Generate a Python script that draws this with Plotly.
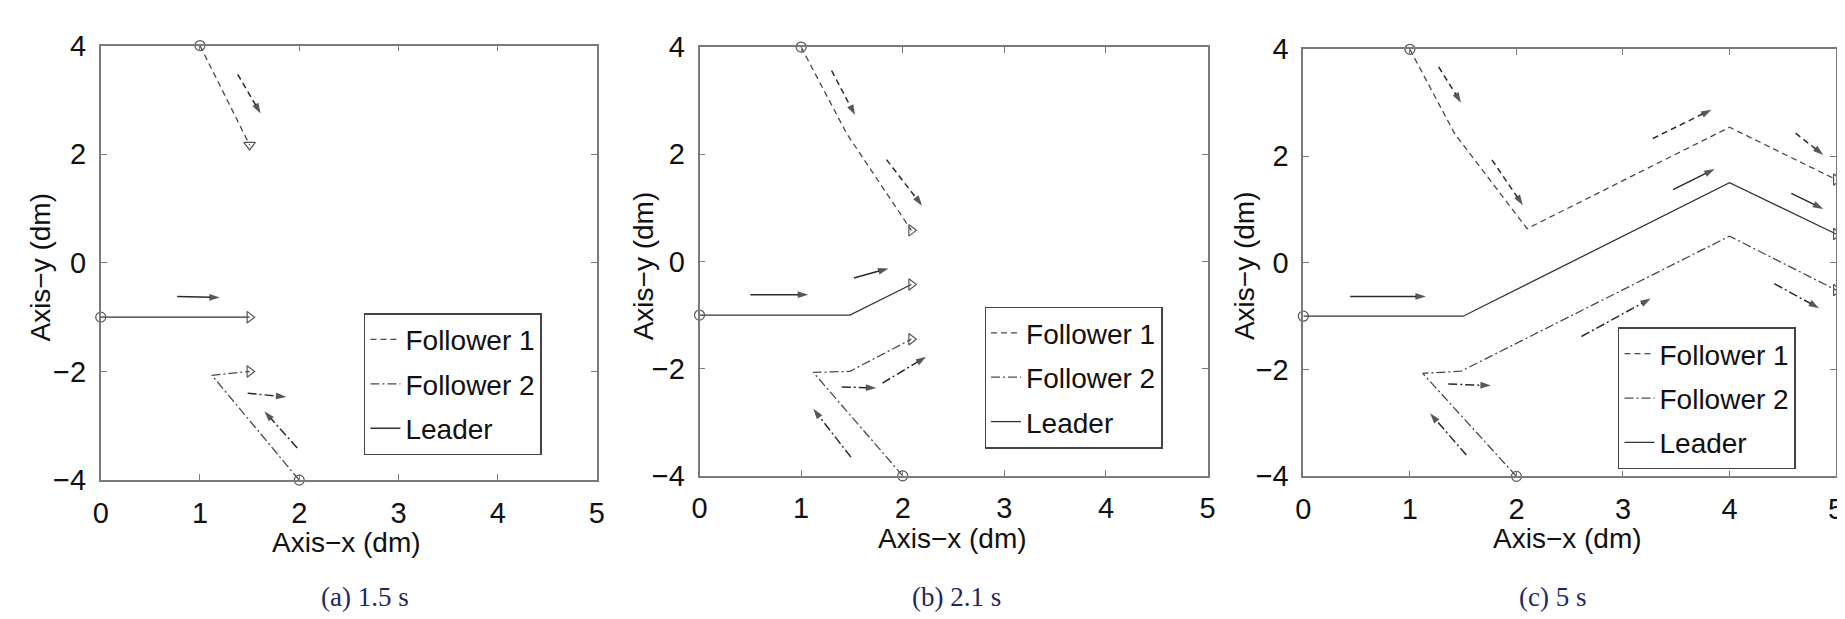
import plotly.graph_objects as go

# ---------------- data ----------------
CAPTIONS = ["(a) 1.5 s", "(b) 2.1 s", "(c) 5 s"]
X_TICKS = [0, 1, 2, 3, 4, 5]
Y_TICKS = [-4, -2, 0, 2, 4]
SERIES = ["Follower 1", "Follower 2", "Leader"]

# panel (a) 1.5 s
A_F1_X = [1.0, 1.47, 1.5]
A_F1_Y = [4.0, 2.3, 2.17]
A_F2_X = [2.0, 1.12, 1.5]
A_F2_Y = [-4.0, -2.07, -2.0]
A_LD_X = [0.0, 1.5]
A_LD_Y = [-1.0, -1.0]
A_ARR_F1 = [(1.38, 3.47, 1.61, 2.75)]
A_ARR_F2 = [(1.48, -2.40, 1.87, -2.47), (1.98, -3.41, 1.65, -2.73)]
A_ARR_LD = [(0.77, -0.62, 1.20, -0.64)]

# panel (b) 2.1 s
B_F1_X = [1.0, 1.45, 2.085]
B_F1_Y = [4.0, 2.38, 0.58]
B_F2_X = [2.0, 1.12, 1.48, 2.085]
B_F2_Y = [-4.0, -2.07, -2.05, -1.45]
B_LD_X = [0.0, 1.48, 2.085]
B_LD_Y = [-1.0, -1.0, -0.43]
B_ARR_F1 = [(1.30, 3.56, 1.53, 2.73), (1.84, 1.90, 2.19, 1.04)]
B_ARR_F2 = [(1.49, -3.65, 1.12, -2.75), (1.40, -2.34, 1.74, -2.36),
            (1.80, -2.27, 2.23, -1.78)]
B_ARR_LD = [(0.50, -0.62, 1.07, -0.62), (1.52, -0.31, 1.86, -0.13)]

# panel (c) 5 s
C_F1_X = [1.0, 1.42, 2.10, 4.0, 5.0]
C_F1_Y = [4.0, 2.42, 0.64, 2.54, 1.56]
C_F2_X = [2.0, 1.12, 1.48, 4.0, 5.0]
C_F2_Y = [-4.0, -2.07, -2.03, 0.50, -0.51]
C_LD_X = [0.0, 1.50, 4.0, 5.0]
C_LD_Y = [-1.0, -1.0, 1.50, 0.54]
C_ARR_F1 = [(1.27, 3.67, 1.48, 3.00), (1.77, 1.93, 2.06, 1.08),
            (3.28, 2.33, 3.83, 2.87), (4.62, 2.43, 4.88, 2.02)]
C_ARR_F2 = [(1.53, -3.60, 1.19, -2.82), (1.36, -2.27, 1.76, -2.30),
            (2.61, -1.38, 3.26, -0.67), (4.42, -0.39, 4.84, -0.85)]
C_ARR_LD = [(0.44, -0.63, 1.15, -0.63), (3.47, 1.37, 3.86, 1.76),
            (4.58, 1.30, 4.88, 1.01)]

# ---------------- styling / layout ----------------
W, H = 1845, 619
FONT = "Liberation Sans, Arial, Helvetica, sans-serif"
DASH = {"Follower 1": "6px,4px", "Follower 2": "9px,3px,2px,3px", "Leader": "solid"}
LCOL = {"Follower 1": "#4a4a4a", "Follower 2": "#4a4a4a", "Leader": "#333333"}

# pixel boxes of the three plot areas: (left, right, top, bottom)
BOXES = [(85.5, 586.0, 22.7, 481.0), (689.5, 1202.0, 24.3, 476.5), (1298.6, 1836.0, 26.7, 477.0)]
LEGEND_POS = [(351, 305), (977, 298), (1616, 320)]
CAPTION_POS = [(352, 604), (949, 604), (1550, 604)]
XTITLE_POS = [(333, 547), (945, 543), (1565, 543)]
YTITLE_POS = [(25, 256), (633, 255), (1240, 255)]

panels = [
    (A_F1_X, A_F1_Y, A_F2_X, A_F2_Y, A_LD_X, A_LD_Y, A_ARR_F1, A_ARR_F2, A_ARR_LD),
    (B_F1_X, B_F1_Y, B_F2_X, B_F2_Y, B_LD_X, B_LD_Y, B_ARR_F1, B_ARR_F2, B_ARR_LD),
    (C_F1_X, C_F1_Y, C_F2_X, C_F2_Y, C_LD_X, C_LD_Y, C_ARR_F1, C_ARR_F2, C_ARR_LD),
]
END_SYMBOL = [
    {"Follower 1": "triangle-down-open", "Follower 2": "triangle-right-open", "Leader": "triangle-right-open"},
    {"Follower 1": "triangle-right-open", "Follower 2": "triangle-right-open", "Leader": "triangle-right-open"},
    {"Follower 1": "triangle-right-open", "Follower 2": "triangle-right-open", "Leader": "triangle-right-open"},
]

fig = go.Figure()
layout = dict(
    width=W, height=H, margin=dict(l=0, r=0, t=0, b=0),
    paper_bgcolor="white", plot_bgcolor="white", showlegend=True,
    font=dict(family=FONT, color="#111111"),
)
annotations = []

for i, p in enumerate(panels):
    f1x, f1y, f2x, f2y, ldx, ldy, af1, af2, ald = p
    sfx = "" if i == 0 else str(i + 1)
    xa, ya = "x" + sfx, "y" + sfx
    leg = "legend" + sfx
    paths = {"Follower 1": (f1x, f1y), "Follower 2": (f2x, f2y), "Leader": (ldx, ldy)}
    arrows = {"Follower 1": af1, "Follower 2": af2, "Leader": ald}

    for name in SERIES:
        xs, ys = paths[name]
        fig.add_trace(go.Scatter(
            x=xs, y=ys, mode="lines", name=name, xaxis=xa, yaxis=ya,
            legend=leg, legendgroup=f"{leg}-{name}",
            line=dict(color=LCOL[name], width=1.3, dash=DASH[name]),
            cliponaxis=False, hoverinfo="skip"))
    for name in SERIES:
        xs, ys = paths[name]
        fig.add_trace(go.Scatter(
            x=[xs[0], xs[-1]], y=[ys[0], ys[-1]], mode="markers", showlegend=False,
            xaxis=xa, yaxis=ya,
            marker=dict(symbol=["circle-open", END_SYMBOL[i][name]], size=10,
                        color="#555555", line=dict(width=1.2, color="#555555")),
            cliponaxis=False, hoverinfo="skip"))
    for name in SERIES:
        for (x0, y0, x1, y1) in arrows[name]:
            fig.add_trace(go.Scatter(
                x=[x0, x1], y=[y0, y1], mode="lines+markers", showlegend=False,
                xaxis=xa, yaxis=ya,
                line=dict(color="#2a2a2a", width=1.5, dash=DASH[name]),
                marker=dict(symbol=["line-ns", "arrow"], size=[0, 11],
                            angleref="previous", color="#111111",
                            line=dict(width=0)),
                cliponaxis=False, hoverinfo="skip"))

    l, r, t, b = BOXES[i]
    axis_common = dict(showgrid=False, zeroline=False, showline=True, mirror="ticks",
                       linecolor="#7a7a7a", linewidth=1.6, ticks="inside", ticklen=6,
                       tickcolor="#7a7a7a", tickwidth=1.2,
                       tickfont=dict(family=FONT, size=29, color="#111111"))
    layout["xaxis" + sfx] = dict(axis_common, domain=[l / W, r / W], range=[0, 5],
                                 tickvals=X_TICKS, anchor=ya, ticklabelstandoff=6)
    layout["yaxis" + sfx] = dict(axis_common, domain=[1 - b / H, 1 - t / H], range=[-4, 4],
                                 tickvals=Y_TICKS, anchor=xa, ticklabelstandoff=7)
    lx, ly = LEGEND_POS[i]
    layout[leg] = dict(x=lx / W, y=1 - ly / H, xanchor="left", yanchor="top",
                       bgcolor="white", bordercolor="#444444", borderwidth=1.5,
                       font=dict(family=FONT, size=28, color="#111111"),
                       traceorder="grouped", tracegroupgap=5,
                       itemwidth=30)
    cx, cy = CAPTION_POS[i]
    annotations.append(dict(text=CAPTIONS[i], x=cx / W, y=1 - cy / H, xref="paper", yref="paper",
                            showarrow=False, xanchor="center", yanchor="middle",
                            font=dict(family="Liberation Serif, Times New Roman, serif",
                                      size=27, color="#1d2860")))
    tx, ty = XTITLE_POS[i]
    annotations.append(dict(text="Axis\u2212x (dm)", x=tx / W, y=1 - ty / H, xref="paper", yref="paper",
                            showarrow=False, xanchor="center", yanchor="middle",
                            font=dict(family=FONT, size=28, color="#111111")))
    yx, yy = YTITLE_POS[i]
    annotations.append(dict(text="Axis\u2212y (dm)", x=yx / W, y=1 - yy / H, xref="paper", yref="paper",
                            showarrow=False, xanchor="center", yanchor="middle", textangle=-90,
                            font=dict(family=FONT, size=28, color="#111111")))

layout["annotations"] = annotations
fig.update_layout(**layout)
fig.write_html("out.html")
